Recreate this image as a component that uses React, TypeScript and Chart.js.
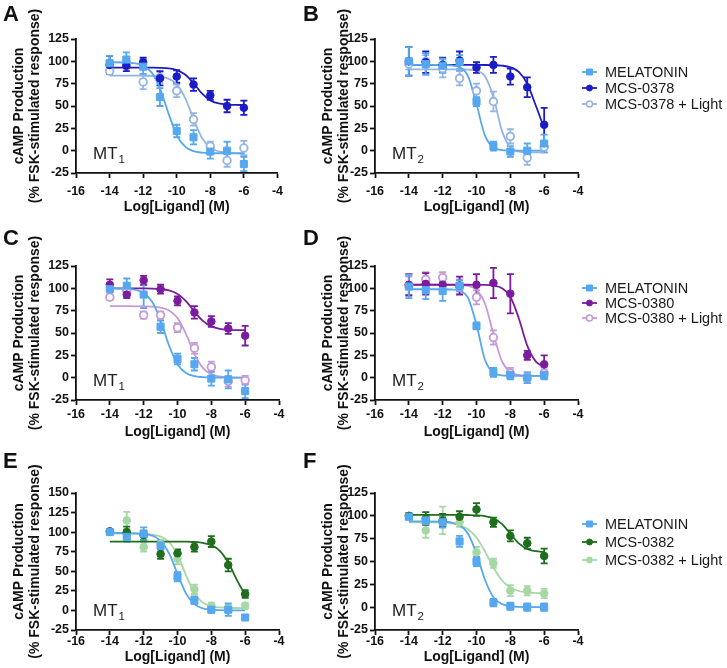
import React, { useEffect, useRef } from 'react';
import { Chart, registerables } from 'chart.js';

Chart.register(...registerables);

const FONT = '"Liberation Sans", Arial, Helvetica, sans-serif';

// ---- shared axes / labels ----
const DOSES = [-14, -13, -12, -11, -10, -9, -8, -7, -6];
const FIT_X = [-14, -13, -12, -11.5, -11, -10.5, -10, -9.5, -9, -8.5, -8, -7.5, -7, -6.5, -6];
const X_MIN = -16;
const X_MAX = -4;
const X_STEP = 2;
const Y_MIN = -25;
const Y_STEP = 25;
const X_TITLE = 'Log[Ligand] (M)';
const Y_TITLE = ['cAMP Production', '(% FSK-stimulated response)'];
const RECEPTOR = 'MT';
const MELATONIN = 'MELATONIN';
const COMPOUNDS = ['MCS-0378', 'MCS-0380', 'MCS-0382'];
const LIGHT_SUFFIX = ' + Light';

// ---- Panel A (MT1, MCS-0378) ----
const A_MEL = [98, 102, 94, 60, 22, 15, -1, 0, -15];
const A_MEL_SEM = [8, 8, 8, 10, 7, 8, 8, 10, 8];
const A_MEL_FIT = [99.0, 98.6, 95.1, 87.6, 69.9, 42.2, 17.5, 4.5, -0.5, -2.2, -2.7, -2.9, -3.0, -3.0, -3.0];
const A_DRUG = [96, 95, 99, 81, 83, 74, 62, 50, 48];
const A_DRUG_SEM = [10, 6, 5, 8, 7, 7, 5, 7, 8];
const A_DRUG_FIT = [93.0, 93.0, 93.0, 92.9, 92.7, 92.1, 90.2, 85.3, 75.6, 64.0, 56.2, 52.8, 51.6, 51.2, 51.1];
const A_LIGHT = [89, 98, 77, 82, 67, 35, 5, -11, 3];
const A_LIGHT_SEM = [3, 6, 8, 6, 7, 7, 5, 7, 8];
const A_LIGHT_FIT = [84.0, 84.0, 83.9, 83.7, 82.9, 80.7, 74.3, 59.2, 35.5, 14.5, 3.4, -0.9, -2.3, -2.8, -2.9];

// ---- Panel B (MT2, MCS-0378) ----
const B_MEL = [100, 97, 95, 99, 55, 5, -1, 0, 8];
const B_MEL_SEM = [16, 12, 8, 8, 5, 5, 6, 8, 10];
const B_MEL_FIT = [96.0, 96.0, 95.9, 95.5, 93.5, 83.5, 52.1, 16.8, 3.5, 0.6, 0.1, 0, 0, 0, 0];
const B_DRUG = [100, 99, 96, 101, 93, 96, 83, 71, 29];
const B_DRUG_SEM = [16, 12, 8, 10, 6, 9, 9, 11, 19];
const B_DRUG_FIT = [96.0, 96.0, 96.0, 96.0, 96.0, 96.0, 96.0, 95.9, 95.7, 95.2, 93.4, 88.1, 74.9, 50.8, 25.1];
const B_LIGHT = [97, 100, 92, 81, 67, 55, 16, -8, 4];
const B_LIGHT_SEM = [6, 7, 10, 8, 8, 11, 8, 8, 6];
const B_LIGHT_FIT = [91.0, 91.0, 91.0, 91.0, 91.0, 90.7, 89.5, 83.4, 60.0, 22.4, 3.5, -1.0, -1.8, -2.0, -2.0];

// ---- Panel C (MT1, MCS-0380) ----
const C_MEL = [99, 103, 93, 57, 21, 15, -1, -2, -15];
const C_MEL_SEM = [7, 8, 15, 7, 6, 7, 8, 10, 8];
const C_MEL_FIT = [99.9, 99.4, 94.7, 84.9, 64.0, 36.0, 15.1, 5.3, 1.7, 0.6, 0.2, 0.1, 0, 0, 0];
const C_DRUG = [104, 93, 109, 99, 86, 73, 63, 55, 47];
const C_DRUG_SEM = [6, 4, 5, 5, 5, 7, 6, 6, 11];
const C_DRUG_FIT = [100.0, 100.0, 99.9, 99.7, 99.1, 97.6, 93.7, 85.7, 74.1, 63.5, 57.4, 54.6, 53.6, 53.2, 53.1];
const C_LIGHT = [90, 97, 70, 70, 56, 33, 12, -4, -3];
const C_LIGHT_SEM = [3, 4, 4, 4, 5, 6, 6, 6, 5];
const C_LIGHT_FIT = [80.0, 80.0, 79.8, 79.5, 78.4, 75.3, 66.7, 49.0, 26.7, 11.0, 3.8, 1.3, 0.4, 0.1, 0.0];

// ---- Panel D (MT2, MCS-0380) ----
const D_MEL = [102, 98, 97, 103, 58, 6, 3, 0, 3];
const D_MEL_SEM = [13, 10, 11, 6, 4, 5, 5, 6, 5];
const D_MEL_FIT = [99.0, 99.0, 99.0, 98.7, 97.3, 89.4, 59.3, 20.1, 5.4, 2.6, 2.1, 2.0, 2.0, 2.0, 2.0];
const D_DRUG = [104, 105, 104, 103, 104, 106, 94, 25, 15];
const D_DRUG_SEM = [12, 12, 8, 10, 12, 17, 22, 5, 10];
const D_DRUG_FIT = [104.0, 104.0, 104.0, 104.0, 104.0, 104.0, 103.9, 103.8, 103.0, 100.2, 90.6, 66.6, 35.9, 18.2, 12.2];
const D_LIGHT = [103, 110, 112, 102, 90, 45, 5, 0, 5];
const D_LIGHT_SEM = [10, 8, 6, 8, 8, 8, 6, 6, 6];
const D_LIGHT_FIT = [104.0, 104.0, 104.0, 103.9, 103.7, 102.7, 98.4, 83.0, 49.2, 18.5, 6.2, 3.0, 2.2, 2.1, 2.0];

// ---- Panel E (MT1, MCS-0382) ----
const E_MEL = [100, 94, 98, 83, 43, 13, 1, 1, -9];
const E_MEL_SEM = [2, 6, 8, 5, 6, 5, 4, 8, 3];
const E_MEL_FIT = [99.0, 98.9, 97.9, 95.6, 89.0, 73.1, 46.7, 21.8, 8.1, 2.7, 0.9, 0.3, 0.1, 0, 0];
const E_DRUG = [101, 100, 96, 72, 73, 81, 88, 58, 21];
const E_DRUG_SEM = [2, 7, 6, 6, 5, 6, 7, 8, 5];
const E_DRUG_FIT = [88.0, 88.0, 88.0, 88.0, 88.0, 88.0, 87.9, 87.8, 87.4, 86.3, 83.4, 76.2, 61.2, 39.4, 19.7];
const E_LIGHT = [101, 115, 81, 85, 66, 27, 6, 2, 6];
const E_LIGHT_SEM = [2, 11, 6, 5, 7, 6, 4, 5, 4];
const E_LIGHT_FIT = [98.0, 98.0, 97.6, 96.8, 94.4, 87.4, 70.9, 45.1, 22.1, 10.0, 5.3, 3.8, 3.2, 3.1, 3.0];

// ---- Panel F (MT2, MCS-0382) ----
const F_MEL = [99, 95, 93, 72, 50, 5, 1, 0, 0];
const F_MEL_SEM = [2, 4, 6, 6, 5, 4, 4, 4, 4];
const F_MEL_FIT = [94.0, 94.0, 93.6, 92.7, 89.7, 80.4, 58.6, 30.0, 10.9, 3.4, 1.0, 0.3, 0.1, 0, 0];
const F_DRUG = [100, 97, 95, 99, 107, 93, 78, 70, 56];
const F_DRUG_SEM = [3, 7, 7, 6, 7, 5, 6, 6, 8];
const F_DRUG_FIT = [101.0, 101.0, 101.0, 101.0, 101.0, 100.9, 100.6, 99.7, 97.3, 91.2, 80.5, 69.8, 63.7, 61.3, 60.4];
const F_LIGHT = [100, 84, 95, 93, 60, 48, 18, 18, 15];
const F_LIGHT_SEM = [3, 8, 15, 5, 6, 5, 6, 5, 5];
const F_LIGHT_FIT = [93.0, 92.9, 92.5, 91.7, 89.7, 85.3, 76.2, 61.1, 43.5, 29.5, 21.5, 17.7, 16.1, 15.4, 15.2];

// ---- styles ----
const INK = '#111111';
const MEL_COLOR = '#55a7f0';
const COMPOUND_COLORS = ['#1c1cc4', '#7a1c9e', '#1e6e1e'];
const LIGHT_COLORS = ['#93b5e5', '#c69ad8', '#a6d8a4'];
const LIGHT_FILLED = [false, false, true];

const COLS = [
  { left: 0, width: 290, yAxisW: 76, padRight: 11, titlePad: 11 },
  { left: 300, width: 427, yAxisW: 75, padRight: 149, titlePad: 20 },
];
const ROWS = [
  { top: 0, height: 215, padTop: 39, xAxisH: 42, tickPad: 7, titlePadB: 0, letterBase: 21, legendY: [72, 88, 104] },
  { top: 222, height: 218, padTop: 44, xAxisH: 40, tickPad: 3, titlePadB: 0, letterBase: 245, legendY: [288, 303, 318] },
  { top: 445, height: 223, padTop: 48, xAxisH: 38, tickPad: 0, titlePadB: 3, letterBase: 468, legendY: [524, 542, 560] },
];

const PANELS = [
  { letter: 'A', row: 0, col: 0, sub: '1', compound: 0, yMax: 125,
    mel: [A_MEL, A_MEL_SEM, A_MEL_FIT], drug: [A_DRUG, A_DRUG_SEM, A_DRUG_FIT], light: [A_LIGHT, A_LIGHT_SEM, A_LIGHT_FIT] },
  { letter: 'B', row: 0, col: 1, sub: '2', compound: 0, yMax: 125,
    mel: [B_MEL, B_MEL_SEM, B_MEL_FIT], drug: [B_DRUG, B_DRUG_SEM, B_DRUG_FIT], light: [B_LIGHT, B_LIGHT_SEM, B_LIGHT_FIT] },
  { letter: 'C', row: 1, col: 0, sub: '1', compound: 1, yMax: 125,
    mel: [C_MEL, C_MEL_SEM, C_MEL_FIT], drug: [C_DRUG, C_DRUG_SEM, C_DRUG_FIT], light: [C_LIGHT, C_LIGHT_SEM, C_LIGHT_FIT] },
  { letter: 'D', row: 1, col: 1, sub: '2', compound: 1, yMax: 125,
    mel: [D_MEL, D_MEL_SEM, D_MEL_FIT], drug: [D_DRUG, D_DRUG_SEM, D_DRUG_FIT], light: [D_LIGHT, D_LIGHT_SEM, D_LIGHT_FIT] },
  { letter: 'E', row: 2, col: 0, sub: '1', compound: 2, yMax: 150,
    mel: [E_MEL, E_MEL_SEM, E_MEL_FIT], drug: [E_DRUG, E_DRUG_SEM, E_DRUG_FIT], light: [E_LIGHT, E_LIGHT_SEM, E_LIGHT_FIT] },
  { letter: 'F', row: 2, col: 1, sub: '2', compound: 2, yMax: 125,
    mel: [F_MEL, F_MEL_SEM, F_MEL_FIT], drug: [F_DRUG, F_DRUG_SEM, F_DRUG_FIT], light: [F_LIGHT, F_LIGHT_SEM, F_LIGHT_FIT] },
];

function pointSet(label: string, vals: number[], sem: number[], color: string, style: string, filled: boolean) {
  return {
    type: 'scatter',
    label,
    data: DOSES.map((x, i) => ({ x, y: vals[i] })),
    errors: sem,
    legendMarker: true,
    markerStyle: style,
    markerFilled: filled,
    showLine: false,
    pointStyle: style,
    pointRadius: style === 'rect' ? 5 : 3.8,
    pointBorderWidth: filled ? 1 : 1.8,
    pointBackgroundColor: filled ? color : '#ffffff',
    pointBorderColor: color,
    backgroundColor: filled ? color : '#ffffff',
    borderColor: color,
  };
}

function fitSet(label: string, fit: number[], color: string) {
  return {
    type: 'line',
    label: label + ' fit',
    data: FIT_X.map((x, i) => ({ x, y: fit[i] })),
    borderColor: color,
    borderWidth: 1.8,
    pointRadius: 0,
    cubicInterpolationMode: 'monotone',
    fill: false,
  };
}

const errorBarPlugin = {
  id: 'errorBars',
  beforeDatasetsDraw(chart: any) {
    const ctx = chart.ctx;
    const ys = chart.scales.y;
    const sets = chart.data.datasets;
    for (let di = sets.length - 1; di >= 0; di--) {
      const ds = sets[di];
      if (!ds.errors) continue;
      const meta = chart.getDatasetMeta(di);
      ctx.save();
      ctx.strokeStyle = ds.borderColor;
      ctx.lineWidth = 1.8;
      meta.data.forEach((pt: any, i: number) => {
        const v = ds.data[i].y;
        const e = ds.errors[i];
        const t = ys.getPixelForValue(v + e);
        const b = ys.getPixelForValue(v - e);
        ctx.beginPath();
        ctx.moveTo(pt.x, t);
        ctx.lineTo(pt.x, b);
        ctx.moveTo(pt.x - 3.5, t);
        ctx.lineTo(pt.x + 3.5, t);
        ctx.moveTo(pt.x - 3.5, b);
        ctx.lineTo(pt.x + 3.5, b);
        ctx.stroke();
      });
      ctx.restore();
    }
  },
};

function makeOverlay(panel: any) {
  const row = ROWS[panel.row];
  return {
    id: 'panelOverlay',
    afterDraw(chart: any) {
      const ctx = chart.ctx;
      const a = chart.chartArea;
      ctx.save();
      ctx.textAlign = 'left';
      ctx.textBaseline = 'alphabetic';
      ctx.fillStyle = INK;
      ctx.font = `bold 22px ${FONT}`;
      ctx.fillText(panel.letter, 3, row.letterBase - row.top);
      // receptor label with subscript
      ctx.fillStyle = '#222222';
      ctx.font = `17px ${FONT}`;
      const mx = a.left + 17;
      const my = a.bottom - 14;
      ctx.fillText(RECEPTOR, mx, my);
      const w = ctx.measureText(RECEPTOR).width;
      ctx.font = `11.5px ${FONT}`;
      ctx.fillText(panel.sub, mx + w + 1, my + 4);
      // legend (right-hand panels)
      if (panel.col === 1) {
        const items = chart.data.datasets.filter((d: any) => d.legendMarker);
        items.forEach((d: any, i: number) => {
          const cy = row.legendY[i] - row.top;
          const x0 = 282;
          const x1 = 297;
          const cx = (x0 + x1) / 2;
          ctx.strokeStyle = d.borderColor;
          ctx.lineWidth = 1.8;
          ctx.beginPath();
          ctx.moveTo(x0, cy);
          ctx.lineTo(x1, cy);
          ctx.stroke();
          ctx.fillStyle = d.markerFilled ? d.borderColor : '#ffffff';
          ctx.beginPath();
          if (d.markerStyle === 'rect') {
            ctx.rect(cx - 3, cy - 3, 6, 6);
          } else {
            ctx.arc(cx, cy, 3, 0, Math.PI * 2);
          }
          ctx.fill();
          ctx.lineWidth = d.markerFilled ? 1 : 1.5;
          ctx.stroke();
          ctx.fillStyle = '#1a1a1a';
          ctx.font = `14.5px ${FONT}`;
          ctx.textBaseline = 'middle';
          ctx.fillText(d.label, 305, cy + 0.5);
          ctx.textBaseline = 'alphabetic';
        });
      }
      ctx.restore();
    },
  };
}

function buildConfig(panel: any) {
  const col = COLS[panel.col];
  const row = ROWS[panel.row];
  const drugName = COMPOUNDS[panel.compound];
  const lightName = drugName + LIGHT_SUFFIX;
  const dc = COMPOUND_COLORS[panel.compound];
  const lc = LIGHT_COLORS[panel.compound];
  const lf = LIGHT_FILLED[panel.compound];
  const datasets: any[] = [
    pointSet(MELATONIN, panel.mel[0], panel.mel[1], MEL_COLOR, 'rect', true),
    pointSet(drugName, panel.drug[0], panel.drug[1], dc, 'circle', true),
    pointSet(lightName, panel.light[0], panel.light[1], lc, 'circle', lf),
    fitSet(MELATONIN, panel.mel[2], MEL_COLOR),
    fitSet(drugName, panel.drug[2], dc),
    fitSet(lightName, panel.light[2], lc),
  ];
  const tickFont = { family: FONT, size: 12.5, weight: 'bold', lineHeight: 1 };
  const titleFont = { family: FONT, size: 14, weight: 'bold', lineHeight: 1.15 };
  const grid = { display: true, drawOnChartArea: false, drawTicks: true, tickLength: 5, tickColor: INK, tickWidth: 1.8 };
  const border = { display: true, color: INK, width: 1.8 };
  return {
    type: 'scatter',
    data: { datasets },
    plugins: [errorBarPlugin, makeOverlay(panel)],
    options: {
      responsive: false,
      devicePixelRatio: 1,
      animation: false,
      events: [],
      layout: { padding: { left: 0, top: row.padTop, right: col.padRight, bottom: 0 } },
      plugins: { legend: { display: false }, tooltip: { enabled: false } },
      scales: {
        x: {
          type: 'linear',
          min: X_MIN,
          max: X_MAX,
          ticks: { stepSize: X_STEP, color: INK, font: tickFont, padding: row.tickPad, maxRotation: 0, autoSkip: false },
          grid,
          border,
          title: { display: true, text: X_TITLE, color: INK, font: titleFont, padding: { top: 0, bottom: row.titlePadB } },
          afterFit: (s: any) => { s.height = row.xAxisH; },
        },
        y: {
          type: 'linear',
          min: Y_MIN,
          max: panel.yMax,
          ticks: { stepSize: Y_STEP, color: INK, font: tickFont, padding: 2 },
          grid,
          border,
          title: { display: true, text: Y_TITLE, color: INK, font: titleFont, padding: { top: col.titlePad, bottom: 0 } },
          afterFit: (s: any) => { s.width = col.yAxisW; },
        },
      },
    },
  };
}

function Panel({ panel }: { panel: any }) {
  const ref = useRef<HTMLCanvasElement | null>(null);
  useEffect(() => {
    const chart = new Chart(ref.current as HTMLCanvasElement, buildConfig(panel) as any);
    return () => chart.destroy();
  }, [panel]);
  const col = COLS[panel.col];
  const row = ROWS[panel.row];
  return (
    <canvas
      ref={ref}
      width={col.width}
      height={row.height}
      style={{ position: 'absolute', left: col.left, top: row.top, width: col.width, height: row.height }}
    />
  );
}

export default function App() {
  return (
    <div style={{ position: 'absolute', left: 0, top: 0, width: 727, height: 668, background: '#ffffff', overflow: 'hidden' }}>
      {PANELS.map((p) => (
        <Panel key={p.letter} panel={p} />
      ))}
    </div>
  );
}
